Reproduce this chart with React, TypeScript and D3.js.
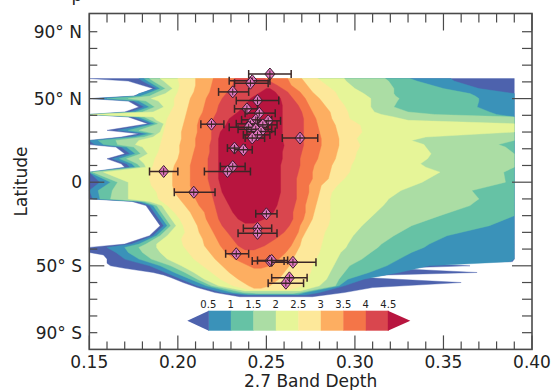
import React from "react";
import * as d3 from "d3";

const W = 555;
const H = 390;

// axis ticks
const xMajor = [0.15, 0.2, 0.25, 0.3, 0.35, 0.4];
const xMajorLabels = ["0.15", "0.20", "0.25", "0.30", "0.35", "0.40"];
const yLabelTicks = [90, 50, 0, -50, -90];
const yLabels = ["90° N", "50° N", "0", "50° S", "90° S"];
const yMajor = [50, 0, -50];

// colour levels (filled contours of 2D histogram)
const cbarLevels = [0.5, 1, 1.5, 2, 2.5, 3, 3.5, 4, 4.5];
const cbarLabels = ["0.5", "1", "1.5", "2", "2.5", "3", "3.5", "4", "4.5"];
const levelColors = [
  "#4d62ad", "#3a92b9", "#66c2a5", "#abdda4", "#e6f598",
  "#fde89a", "#fdae61", "#f47548", "#d9464e", "#b8153f",
];

// each band: [latitude, left band depth, right band depth]
const band0 = [
  [62, 0.15, 0.39], [60.5, 0.172, 0.39], [56, 0.186, 0.39], [51.5, 0.175, 0.39],
  [50, 0.15, 0.39], [48.5, 0.172, 0.39], [45, 0.178, 0.39], [42, 0.17, 0.39],
  [40.5, 0.15, 0.39], [39, 0.172, 0.39], [35, 0.183, 0.39], [31, 0.16, 0.39],
  [29, 0.178, 0.39], [27, 0.168, 0.39], [25, 0.15, 0.39], [22.5, 0.15, 0.39],
  [21, 0.165, 0.39], [17, 0.17, 0.39], [14, 0.16, 0.39], [11, 0.168, 0.39],
  [9, 0.17, 0.39], [6, 0.15, 0.39], [0, 0.15, 0.39], [-5, 0.15, 0.39],
  [-10, 0.15, 0.39], [-11.5, 0.174, 0.39], [-14, 0.182, 0.39], [-20, 0.186, 0.39],
  [-26, 0.19, 0.39], [-32, 0.184, 0.39], [-37, 0.17, 0.39], [-39, 0.15, 0.39],
  [-42, 0.15, 0.39], [-43.5, 0.158, 0.39], [-46, 0.16, 0.39], [-47.5, 0.16, 0.389],
  [-48.5, 0.16, 0.33], [-50, 0.162, 0.365], [-51.5, 0.17, 0.32], [-54, 0.186, 0.369],
  [-55.5, 0.192, 0.318], [-57, 0.196, 0.305], [-60, 0.203, 0.36], [-63, 0.211, 0.31],
  [-66, 0.221, 0.294], [-68.5, 0.235, 0.276],
];
const band05 = [
  [62, 0.178, 0.354], [60.5, 0.18, 0.356], [56, 0.188, 0.37], [53, 0.178, 0.39],
  [51.5, 0.176, 0.39], [50, 0.152, 0.39], [48.5, 0.175, 0.39], [45, 0.181, 0.39],
  [42, 0.173, 0.39], [40.5, 0.15, 0.39], [39, 0.175, 0.39], [35, 0.185, 0.39],
  [31, 0.166, 0.39], [29, 0.181, 0.39], [27, 0.172, 0.39], [25, 0.15, 0.39],
  [22.5, 0.153, 0.39], [21, 0.168, 0.39], [17, 0.173, 0.39], [14, 0.163, 0.39],
  [11, 0.171, 0.39], [9, 0.173, 0.39], [6, 0.15, 0.39], [0, 0.156, 0.39],
  [-5, 0.15, 0.39], [-10, 0.152, 0.39], [-11.5, 0.177, 0.39], [-14, 0.184, 0.39],
  [-20, 0.188, 0.39], [-26, 0.192, 0.39], [-32, 0.186, 0.39], [-37, 0.174, 0.39],
  [-39, 0.16, 0.39], [-42, 0.165, 0.39], [-46, 0.17, 0.39], [-47.5, 0.175, 0.388],
  [-50, 0.184, 0.342], [-54, 0.193, 0.325], [-58, 0.202, 0.305], [-62, 0.211, 0.294],
  [-66, 0.225, 0.28], [-67.5, 0.238, 0.272],
];
const band1 = [
  [62, 0.181, 0.331], [60.5, 0.183, 0.335], [56, 0.19, 0.35], [53, 0.183, 0.365],
  [51.5, 0.179, 0.368], [50, 0.16, 0.37], [48.5, 0.178, 0.37], [45, 0.184, 0.369],
  [42, 0.176, 0.376], [40.5, 0.15, 0.38], [39, 0.178, 0.39], [35, 0.187, 0.39],
  [31, 0.172, 0.39], [29, 0.184, 0.39], [27, 0.176, 0.39], [25, 0.155, 0.39],
  [22.5, 0.158, 0.39], [21, 0.171, 0.39], [17, 0.176, 0.39], [14, 0.167, 0.39],
  [11, 0.174, 0.39], [9, 0.176, 0.39], [6, 0.15, 0.39], [0, 0.162, 0.39],
  [-5, 0.155, 0.39], [-10, 0.156, 0.39], [-11.5, 0.179, 0.39], [-14, 0.186, 0.39],
  [-20, 0.19, 0.39], [-26, 0.194, 0.376], [-32, 0.188, 0.352], [-37, 0.178, 0.342],
  [-39, 0.17, 0.339], [-42, 0.172, 0.332], [-46, 0.178, 0.325], [-50, 0.19, 0.318],
  [-54, 0.198, 0.308], [-58, 0.207, 0.296], [-62, 0.216, 0.291], [-66, 0.231, 0.272],
  [-67, 0.24, 0.268],
];
const band15 = [
  [62, 0.184, 0.317], [60.5, 0.186, 0.319], [56, 0.193, 0.322], [53, 0.187, 0.322],
  [51.5, 0.184, 0.323], [50, 0.172, 0.325], [48.5, 0.182, 0.324], [45, 0.187, 0.322],
  [42, 0.18, 0.33], [40.5, 0.15, 0.345], [39, 0.181, 0.39], [35, 0.189, 0.39],
  [31, 0.178, 0.39], [29, 0.187, 0.39], [27, 0.181, 0.39], [25, 0.165, 0.39],
  [22.5, 0.166, 0.381], [21, 0.175, 0.385], [17, 0.179, 0.39], [14, 0.171, 0.39],
  [11, 0.177, 0.39], [9, 0.179, 0.39], [6, 0.152, 0.384], [0, 0.166, 0.385],
  [-5, 0.163, 0.366], [-10, 0.162, 0.37], [-11.5, 0.181, 0.368], [-14, 0.188, 0.365],
  [-20, 0.192, 0.348], [-26, 0.196, 0.332], [-32, 0.19, 0.322], [-37, 0.182, 0.315],
  [-39, 0.178, 0.313], [-42, 0.18, 0.309], [-46, 0.185, 0.304], [-50, 0.196, 0.297],
  [-54, 0.204, 0.294], [-58, 0.211, 0.291], [-62, 0.219, 0.289], [-66, 0.237, 0.269],
  [-66.5, 0.245, 0.265],
];
const band2 = [
  [62, 0.19, 0.294], [60.5, 0.192, 0.295], [56, 0.197, 0.3], [53, 0.193, 0.305],
  [50, 0.185, 0.309], [48.5, 0.189, 0.309], [45, 0.192, 0.309], [42, 0.186, 0.311],
  [40.5, 0.152, 0.315], [39, 0.186, 0.322], [37, 0.188, 0.33], [35, 0.192, 0.39],
  [30, 0.19, 0.39], [27, 0.186, 0.34], [25, 0.178, 0.332], [22.5, 0.176, 0.339],
  [21, 0.18, 0.34], [17, 0.183, 0.343], [14, 0.178, 0.341], [11, 0.181, 0.337],
  [9, 0.182, 0.34], [6, 0.158, 0.348], [0, 0.172, 0.338], [-5, 0.172, 0.326],
  [-10, 0.172, 0.319], [-11.5, 0.184, 0.318], [-14, 0.191, 0.316], [-20, 0.195, 0.31],
  [-26, 0.199, 0.304], [-32, 0.194, 0.299], [-37, 0.188, 0.296], [-39, 0.188, 0.295],
  [-42, 0.19, 0.292], [-46, 0.194, 0.29], [-50, 0.202, 0.288], [-54, 0.209, 0.286],
  [-58, 0.215, 0.284], [-62, 0.223, 0.28], [-65, 0.238, 0.269],
];
const band25 = [
  [62, 0.2, 0.279], [58, 0.201, 0.284], [54, 0.2, 0.289], [50, 0.198, 0.291],
  [46, 0.198, 0.294], [42, 0.196, 0.296], [38, 0.194, 0.297], [34, 0.193, 0.303],
  [30, 0.192, 0.304], [26, 0.191, 0.301], [22, 0.19, 0.303], [18, 0.189, 0.301],
  [14, 0.187, 0.3], [10, 0.186, 0.298], [6, 0.184, 0.297], [2, 0.184, 0.294],
  [-2, 0.185, 0.29], [-6, 0.188, 0.287], [-10, 0.189, 0.286], [-14, 0.194, 0.286],
  [-18, 0.198, 0.286], [-22, 0.201, 0.286], [-26, 0.203, 0.285], [-30, 0.204, 0.283],
  [-34, 0.202, 0.282], [-38, 0.203, 0.281], [-42, 0.206, 0.28], [-46, 0.209, 0.278],
  [-50, 0.214, 0.276], [-54, 0.219, 0.275], [-58, 0.224, 0.273], [-62, 0.231, 0.27],
  [-64.5, 0.241, 0.263],
];
const band3 = [
  [62, 0.21, 0.27], [58, 0.21, 0.273], [54, 0.209, 0.276], [50, 0.207, 0.28],
  [46, 0.206, 0.283], [42, 0.205, 0.286], [38, 0.204, 0.287], [34, 0.203, 0.289],
  [30, 0.202, 0.29], [26, 0.202, 0.291], [22, 0.201, 0.291], [18, 0.201, 0.29],
  [14, 0.2, 0.289], [10, 0.198, 0.287], [6, 0.197, 0.286], [2, 0.197, 0.285],
  [-2, 0.197, 0.281], [-6, 0.198, 0.28], [-10, 0.201, 0.279], [-14, 0.204, 0.278],
  [-18, 0.207, 0.277], [-22, 0.209, 0.276], [-26, 0.211, 0.274], [-30, 0.212, 0.272],
  [-34, 0.214, 0.27], [-38, 0.215, 0.269], [-42, 0.218, 0.267], [-46, 0.221, 0.265],
  [-50, 0.225, 0.263], [-54, 0.229, 0.26], [-58, 0.234, 0.257], [-62, 0.24, 0.252],
  [-63.5, 0.243, 0.247],
];
const band35 = [
  [62, 0.22, 0.262], [58, 0.219, 0.264], [54, 0.218, 0.269], [50, 0.216, 0.272],
  [46, 0.215, 0.274], [42, 0.214, 0.276], [38, 0.212, 0.278], [34, 0.211, 0.279],
  [30, 0.211, 0.28], [26, 0.21, 0.281], [22, 0.21, 0.281], [18, 0.209, 0.28],
  [14, 0.208, 0.279], [10, 0.207, 0.277], [6, 0.207, 0.276], [2, 0.207, 0.276],
  [-2, 0.207, 0.274], [-6, 0.208, 0.274], [-10, 0.21, 0.273], [-14, 0.212, 0.272],
  [-18, 0.215, 0.272], [-22, 0.216, 0.271], [-26, 0.218, 0.269], [-30, 0.22, 0.268],
  [-34, 0.222, 0.266], [-38, 0.224, 0.264], [-42, 0.227, 0.261], [-46, 0.232, 0.257],
  [-50, 0.24, 0.252], [-51.5, 0.243, 0.247],
];
const band4 = [
  [62, 0.232, 0.249], [58, 0.231, 0.256], [54, 0.228, 0.262], [50, 0.225, 0.265],
  [46, 0.223, 0.268], [42, 0.222, 0.27], [38, 0.22, 0.271], [34, 0.22, 0.271],
  [30, 0.219, 0.271], [26, 0.219, 0.271], [22, 0.218, 0.271], [18, 0.218, 0.27],
  [14, 0.217, 0.269], [10, 0.217, 0.269], [6, 0.217, 0.268], [2, 0.217, 0.267],
  [-2, 0.218, 0.267], [-6, 0.219, 0.267], [-10, 0.22, 0.267], [-14, 0.221, 0.266],
  [-18, 0.222, 0.265], [-22, 0.223, 0.265], [-26, 0.225, 0.263], [-30, 0.228, 0.26],
  [-34, 0.231, 0.255], [-38, 0.234, 0.249], [-40.5, 0.238, 0.243],
];
const band45 = [
  [56, 0.25, 0.252], [54, 0.247, 0.255], [50, 0.241, 0.258], [46, 0.238, 0.259],
  [42, 0.234, 0.259], [38, 0.229, 0.259], [34, 0.227, 0.259], [30, 0.224, 0.259],
  [26, 0.223, 0.259], [22, 0.223, 0.26], [18, 0.223, 0.259], [14, 0.223, 0.259],
  [10, 0.223, 0.258], [6, 0.223, 0.258], [2, 0.223, 0.258], [-2, 0.224, 0.258],
  [-6, 0.225, 0.258], [-10, 0.227, 0.257], [-14, 0.229, 0.256], [-18, 0.231, 0.254],
  [-22, 0.234, 0.249], [-24.5, 0.238, 0.243],
];
const bands = [band0, band05, band1, band15, band2, band25, band3, band35, band4, band45];

// observations: [band depth, latitude, error low, error high]
const obs = [
  [0.252, 64.7, 0.24, 0.264],
  [0.242, 60.7, 0.229, 0.252],
  [0.241, 59.2, 0.232, 0.251],
  [0.231, 54.0, 0.223, 0.24],
  [0.245, 48.8, 0.233, 0.257],
  [0.239, 43.9, 0.232, 0.245],
  [0.246, 41.3, 0.238, 0.255],
  [0.244, 37.3, 0.236, 0.253],
  [0.251, 36.7, 0.245, 0.258],
  [0.219, 34.7, 0.213, 0.226],
  [0.241, 34.9, 0.233, 0.25],
  [0.248, 34.3, 0.24, 0.256],
  [0.24, 32.9, 0.229, 0.251],
  [0.244, 31.7, 0.234, 0.253],
  [0.247, 30.3, 0.239, 0.255],
  [0.245, 28.3, 0.237, 0.252],
  [0.242, 26.4, 0.238, 0.249],
  [0.269, 26.4, 0.259, 0.279],
  [0.232, 20.4, 0.228, 0.238],
  [0.237, 19.4, 0.232, 0.242],
  [0.231, 9.4, 0.224, 0.238],
  [0.228, 6.4, 0.215, 0.241],
  [0.192, 6.4, 0.184, 0.2],
  [0.209, -6.0, 0.198, 0.221],
  [0.25, -18.9, 0.244, 0.256],
  [0.245, -27.6, 0.237, 0.253],
  [0.245, -30.6, 0.234, 0.256],
  [0.233, -42.8, 0.227, 0.24],
  [0.252, -47.1, 0.242, 0.26],
  [0.253, -46.8, 0.245, 0.262],
  [0.265, -47.9, 0.253, 0.278],
  [0.263, -57.2, 0.253, 0.273],
  [0.261, -60.4, 0.251, 0.271],
];
const LAT_ERR = 2;

const FONT = "DejaVu Sans, Verdana, sans-serif";
const AXIS = "#4a4a4a";

const diamond = {
  draw(ctx: any, size: number) {
    const h = Math.sqrt(size) * 0.6;
    const w = h * 0.85;
    ctx.moveTo(0, -h);
    ctx.lineTo(w, 0);
    ctx.lineTo(0, h);
    ctx.lineTo(-w, 0);
    ctx.closePath();
  },
};

export default function App() {
  const left = 89.3, right = 532, top = 13.5, bottom = 349.4;
  const x = d3.scaleLinear().domain([0.15, 0.4]).range([left, right]);
  const y = d3.scaleLinear().domain([-100, 100]).range([bottom, 15]);

  const area = d3
    .area<number[]>()
    .y((d) => y(d[0]))
    .x0((d) => x(d[1]))
    .x1((d) => x(d[2]))
    .curve(d3.curveLinear);

  const xMinor = d3.range(15, 41).map((v) => v / 100);
  const yMinor = d3.range(-9, 10).map((v) => v * 10);

  const cb = d3.scaleLinear().domain([0.5, 4.5]).range([208.3, 388.3]);
  const cbTop = 310.7, cbBot = 330.7, cbMid = (cbTop + cbBot) / 2;
  const sym = d3.symbol(diamond as any, 100)();

  return (
    <div style={{ position: "absolute", left: 0, top: 0 }}>
      <svg width={W} height={H} style={{ display: "block", background: "#fff" }}>
        <rect x={0} y={0} width={W} height={H} fill="#fff" />
        <text x={71.5} y={0.5} fontFamily={FONT} fontSize={17} fill="#222">p</text>

        {/* filled contour bands */}
        {bands.map((b, i) => (
          <path key={i} d={area(b) || ""} fill={levelColors[i]} stroke={levelColors[i]} strokeWidth={0.4} />
        ))}

        {/* observations */}
        {obs.map((o, i) => (
          <g key={"o" + i}>
            <path d={sym || ""} transform={`translate(${x(o[0])},${y(o[1])})`} fill="#e377c2" stroke="#3a1c2c" strokeWidth={1} />
            <line x1={x(o[2])} x2={x(o[3])} y1={y(o[1])} y2={y(o[1])} stroke="#3a2626" strokeWidth={1.5} />
            <line x1={x(o[2])} x2={x(o[2])} y1={y(o[1]) - 4} y2={y(o[1]) + 4} stroke="#3a2626" strokeWidth={1.5} />
            <line x1={x(o[3])} x2={x(o[3])} y1={y(o[1]) - 4} y2={y(o[1]) + 4} stroke="#3a2626" strokeWidth={1.5} />
            <line x1={x(o[0])} x2={x(o[0])} y1={y(o[1] + LAT_ERR)} y2={y(o[1] - LAT_ERR)} stroke="#3a2626" strokeWidth={1} />
          </g>
        ))}

        {/* colorbar */}
        {cbarLevels.slice(0, -1).map((v, i) => (
          <rect key={"cb" + i} x={cb(v)} y={cbTop} width={cb(cbarLevels[i + 1]) - cb(v) + 0.5} height={cbBot - cbTop} fill={levelColors[i + 1]} />
        ))}
        <path d={`M${cb(0.5) + 0.5},${cbTop}L${cb(0.5) - 21},${cbMid}L${cb(0.5) + 0.5},${cbBot}Z`} fill={levelColors[0]} />
        <path d={`M${cb(4.5) - 0.5},${cbTop}L${cb(4.5) + 22},${cbMid}L${cb(4.5) - 0.5},${cbBot}Z`} fill={levelColors[9]} />
        {cbarLevels.map((v, i) => (
          <text key={"cbl" + i} x={cb(v)} y={307.5} textAnchor="middle" fontFamily={FONT} fontSize={10} fill="#222">
            {cbarLabels[i]}
          </text>
        ))}

        {/* ticks */}
        {xMinor.map((v, i) => {
          const major = i % 5 === 0;
          return (
            <g key={"xt" + i}>
              <line x1={x(v)} x2={x(v)} y1={bottom} y2={bottom - (major ? 14 : 8)} stroke={AXIS} strokeWidth={1.2} />
              <line x1={x(v)} x2={x(v)} y1={top} y2={top + (major ? 17 : 9)} stroke={AXIS} strokeWidth={1.2} />
            </g>
          );
        })}
        {yMinor.map((v, i) => {
          const major = yMajor.includes(v);
          return (
            <g key={"yt" + i}>
              <line x1={left} x2={left + (major ? 15 : 8)} y1={y(v)} y2={y(v)} stroke={AXIS} strokeWidth={1.2} />
              <line x1={right} x2={right - (major ? 20 : 10)} y1={y(v)} y2={y(v)} stroke={AXIS} strokeWidth={1.2} />
            </g>
          );
        })}

        {/* frame */}
        <rect x={left} y={top} width={right - left} height={bottom - top} fill="none" stroke={AXIS} strokeWidth={1.6} />

        {/* tick labels */}
        {xMajor.map((v, i) => (
          <text key={"xl" + i} x={x(v)} y={368} textAnchor="middle" fontFamily={FONT} fontSize={17} fill="#222">
            {xMajorLabels[i]}
          </text>
        ))}
        {yLabelTicks.map((v, i) => (
          <text key={"yl" + i} x={82} y={y(v) + 6} textAnchor="end" fontFamily={FONT} fontSize={17} fill="#222">
            {yLabels[i]}
          </text>
        ))}
        <text x={(left + right) / 2} y={386.5} textAnchor="middle" fontFamily={FONT} fontSize={17} fill="#222">
          2.7 Band Depth
        </text>
        <text transform={`translate(27,${(top + bottom) / 2}) rotate(-90)`} textAnchor="middle" fontFamily={FONT} fontSize={17} fill="#222">
          Latitude
        </text>
      </svg>
    </div>
  );
}
